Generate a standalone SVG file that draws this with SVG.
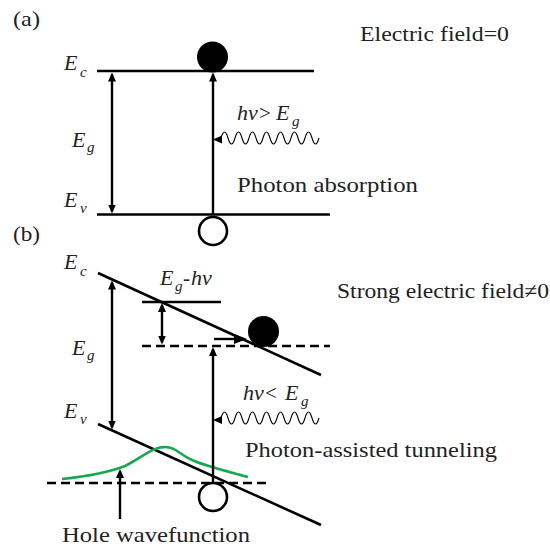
<svg xmlns="http://www.w3.org/2000/svg" width="550" height="549" viewBox="0 0 550 549">
<style>
.t,.m,.s,.u{font-family:"Liberation Serif","DejaVu Serif","Noto Serif",serif;fill:#222}
.t{font-size:21px}
.m{font-size:22px;font-style:italic}
.s{font-size:15px;font-style:italic}
.u{font-size:21px}
.band{stroke:#000;stroke-width:2.6;fill:none}
.dash{stroke:#000;stroke-width:2.6;fill:none;stroke-dasharray:9 5}
.arr{stroke:#000;stroke-width:2.4;fill:none}
.wave{stroke:#000;stroke-width:1.1;fill:none}
.head{fill:#000}
</style>
<defs>
<marker id="ah" markerUnits="userSpaceOnUse" markerWidth="10" markerHeight="8" refX="7" refY="4" orient="auto-start-reverse">
<path d="M0,0 L9,4 L0,8 z" fill="#000"/>
</marker>
<marker id="ahl" markerUnits="userSpaceOnUse" markerWidth="14" markerHeight="10" refX="10" refY="5" orient="auto">
<path d="M0,0 L13,5 L0,10 z" fill="#000"/>
</marker>
</defs>

<g id="bands">
<g id="a-Ec"><path class="band" d="M97,71 H314"/></g>
<g id="a-Ev"><path class="band" d="M97,214.5 H330"/></g>
<g id="b-Ec"><path class="band" d="M98,273 L321,375"/></g>
<g id="b-Ev"><path class="band" d="M98,424 L321,525"/></g>
<g id="b-level"><path class="band" d="M142,302 H221"/></g>
<g id="b-dash-upper"><path class="dash" d="M142,346 H330"/></g>
<g id="b-dash-lower"><path class="dash" d="M47,483 H270"/></g>
<g id="b-wavefunction"><path d="M62,479 C90,476 110,472 125,466 C140,459 152,447 165,447 C176,447 180,455 192,460 C205,466 230,472 248,477" stroke="#16a84e" stroke-width="2.6" fill="none"/></g>
</g>

<g id="connectors">
<path class="arr" d="M112,74.5 V211.5" marker-start="url(#ah)" marker-end="url(#ah)"/>
<path class="arr" d="M213,214 V74.5" marker-end="url(#ah)"/>
<path class="wave" d="M221,138 q3.5,-12 7,0 t7,0 t7,0 t7,0 t7,0 t7,0 t7,0 t7,0 t7,0 t7,0 t7,0 t7,0 t7,0 t7,0"/>
<path class="head" d="M213,139.5 L222,135.5 L222,143.5 z"/>
<path class="arr" d="M112,282.5 V427.5" marker-start="url(#ah)" marker-end="url(#ah)"/>
<path class="arr" d="M162,305 V342.5" marker-start="url(#ah)" marker-end="url(#ah)"/>
<path class="arr" d="M213,483 V349" marker-end="url(#ah)"/>
<path class="arr" d="M214,339 H244" marker-end="url(#ahl)"/>
<path class="wave" d="M221,418 q3.5,-12 7,0 t7,0 t7,0 t7,0 t7,0 t7,0 t7,0 t7,0 t7,0 t7,0 t7,0 t7,0 t7,0 t7,0"/>
<path class="head" d="M213,420 L222,416 L222,424 z"/>
<path class="arr" d="M120,519 V471" marker-end="url(#ah)"/>
</g>

<g id="carriers">
<g id="a-electron"><circle cx="212.5" cy="57" r="15.5" fill="#000"/></g>
<g id="a-hole"><circle cx="213" cy="231" r="14" fill="#fff" stroke="#000" stroke-width="2.6"/></g>
<g id="b-electron"><circle cx="263.5" cy="331.5" r="15.5" fill="#000"/></g>
<g id="b-hole"><circle cx="213" cy="497" r="14" fill="#fff" stroke="#000" stroke-width="2.6"/></g>
</g>

<g id="labels">
<g id="lbl-a"><text class="t" x="13" y="26" textLength="27" lengthAdjust="spacingAndGlyphs">(a)</text></g>
<g id="lbl-b"><text class="t" x="13" y="241" textLength="27" lengthAdjust="spacingAndGlyphs">(b)</text></g>
<g id="lbl-field0"><text class="t" x="360" y="41" textLength="149" lengthAdjust="spacingAndGlyphs">Electric field=0</text></g>
<g id="lbl-absorption"><text class="t" x="237" y="192" textLength="181" lengthAdjust="spacingAndGlyphs">Photon absorption</text></g>
<g id="lbl-strong"><text class="t" x="337" y="298" textLength="212" lengthAdjust="spacingAndGlyphs">Strong electric field≠0</text></g>
<g id="lbl-tunneling"><text class="t" x="245" y="457" textLength="252" lengthAdjust="spacingAndGlyphs">Photon-assisted tunneling</text></g>
<g id="lbl-hole-wf"><text class="t" x="62" y="542" textLength="188" lengthAdjust="spacingAndGlyphs">Hole wavefunction</text></g>

<g id="lbl-a-Ec"><text class="m" x="64" y="70">E</text><text class="s" x="80" y="77">c</text></g>
<g id="lbl-a-Eg"><text class="m" x="72" y="147">E</text><text class="s" x="87" y="152">g</text></g>
<g id="lbl-a-Ev"><text class="m" x="64" y="207">E</text><text class="s" x="80" y="213">v</text></g>
<g id="lbl-a-hv"><text class="m" x="237" y="120">hν</text><text class="u" x="259" y="120">&gt;</text><text class="m" x="276" y="120">E</text><text class="s" x="292" y="126">g</text></g>

<g id="lbl-b-Ec"><text class="m" x="64" y="269">E</text><text class="s" x="80" y="276">c</text></g>
<g id="lbl-b-Eg"><text class="m" x="72" y="355">E</text><text class="s" x="87" y="360">g</text></g>
<g id="lbl-b-Ev"><text class="m" x="64" y="418">E</text><text class="s" x="80" y="424">v</text></g>
<g id="lbl-b-Eghv"><text class="m" x="160" y="285">E</text><text class="s" x="175" y="291">g</text><text class="u" x="183" y="285">-</text><text class="m" x="191" y="285">hν</text></g>
<g id="lbl-b-hv"><text class="m" x="243" y="400">hν</text><text class="u" x="265" y="400">&lt;</text><text class="m" x="285" y="400">E</text><text class="s" x="301" y="406">g</text></g>
</g>
</svg>
